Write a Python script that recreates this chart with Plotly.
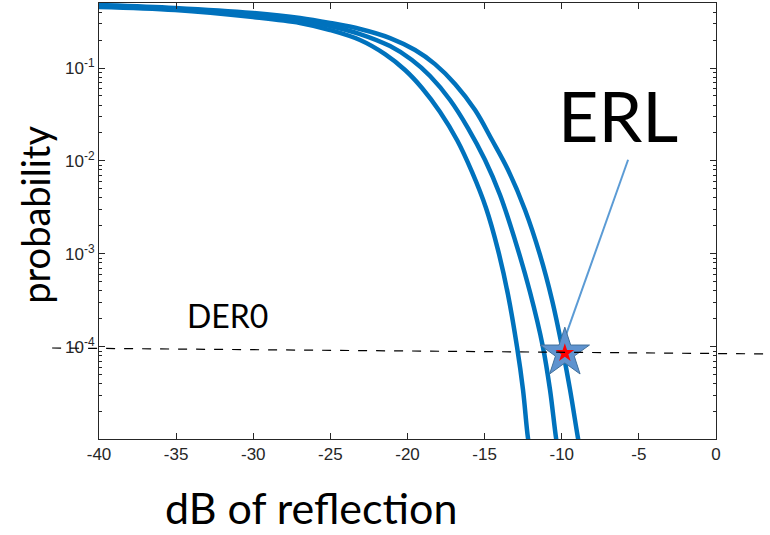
import plotly.graph_objects as go

# dB of reflection vs probability (left, middle, right)
db_left = [-40, -35.07, -30.02, -26.97, -25.02, -23.08, -21.46, -20.16, -19.06, -17.89,
           -16.79, -15.82, -14.91, -14.13, -13.48, -12.90, -12.51, -12.19, -11.99]
p_left = [0.453, 0.420, 0.353, 0.305, 0.256, 0.200, 0.141, 0.0952, 0.0610, 0.0336,
          0.0168, 0.00762, 0.00312, 0.00110, 0.000362, 1.0e-4, 3.45e-5, 1.05e-5, 6.9e-6]

db_mid = [-40, -35.07, -30.02, -26.97, -25.02, -23.08, -21.13, -19.71, -18.54, -17.24,
          -16.08, -14.98, -14.00, -13.03, -12.06, -11.22, -10.76, -10.37, -10.18]
p_mid = [0.464, 0.431, 0.371, 0.328, 0.283, 0.232, 0.172, 0.122, 0.0820, 0.0453,
         0.0226, 0.0103, 0.00431, 0.00141, 0.000390, 1.0e-4, 3.45e-5, 1.05e-5, 6.9e-6]

db_right = [-40, -35.07, -30.02, -26.97, -25.02, -23.08, -21.13, -19.51, -18.22, -16.92,
            -15.62, -14.52, -13.48, -12.38, -11.41, -10.63, -9.98, -9.46, -8.95, -8.75]
p_right = [0.476, 0.442, 0.390, 0.345, 0.305, 0.263, 0.210, 0.156, 0.110, 0.0673,
           0.0353, 0.0168, 0.0080, 0.00297, 0.000976, 0.000320, 1.0e-4, 3.45e-5, 1.05e-5, 6.9e-6]

erl_db = [-9.8]
erl_p = [8.6e-5]
pointer_db = [-10.0, -5.7]
pointer_p = [1.0e-4, 0.0103]

x_ticks = [-40, -35, -30, -25, -20, -15, -10, -5, 0]
x_labels = ["-40", "-35", "-30", "-25", "-20", "-15", "-10", "-5", "0"]
y_ticks = [1e-1, 1e-2, 1e-3, 1e-4]
y_labels = ["10<sup>-1</sup>", "10<sup>-2</sup>", "10<sup>-3</sup>", "10<sup>-4</sup>"]
y_minor = [m * 10.0 ** e for e in range(-5, 0) for m in range(2, 10) if m * 10.0 ** e < 0.5]

blue = "#0072BD"
fig = go.Figure()
for xs, ys in [(db_left, p_left), (db_mid, p_mid), (db_right, p_right)]:
    fig.add_trace(go.Scatter(x=xs, y=ys, mode="lines", line=dict(color=blue, width=4.5, shape="spline"),
                             showlegend=False))

fig.add_trace(go.Scatter(x=pointer_db, y=pointer_p, mode="lines",
                         line=dict(color="#5B9BD5", width=2), showlegend=False))
fig.add_trace(go.Scatter(x=erl_db, y=erl_p, mode="markers", showlegend=False, cliponaxis=False,
                         marker=dict(symbol="star", size=37, color="#5F93CF",
                                     line=dict(color="#41719C", width=1))))
fig.add_trace(go.Scatter(x=erl_db, y=erl_p, mode="markers", showlegend=False, cliponaxis=False,
                         marker=dict(symbol="star", size=14, color="#FF0000")))

# DER0 dashed line (drawn across the whole width)
fig.add_shape(type="line", xref="paper", yref="paper", x0=-0.076, y0=0.2087, x1=1.0875, y1=0.195,
              line=dict(color="black", width=1.2, dash="dash"))

tick_font = dict(family="Liberation Sans, Arial", size=17, color="#262626")
fig.update_xaxes(range=[-40, 0], tickvals=x_ticks, ticktext=x_labels, ticks="inside", ticklen=6,
                 tickcolor="#262626", showline=True, linecolor="#262626", linewidth=1, mirror="ticks",
                 showgrid=False, zeroline=False, tickfont=tick_font, automargin=False)
fig.update_yaxes(type="log", range=[-4.99, -0.301], tickvals=y_ticks, ticktext=y_labels,
                 ticks="inside", ticklen=6, tickcolor="#262626",
                 minor=dict(tickvals=y_minor, ticks="inside", ticklen=3, tickcolor="#262626", showgrid=False),
                 showline=True, linecolor="#262626", linewidth=1, mirror="ticks",
                 showgrid=False, zeroline=False, tickfont=tick_font, automargin=False)

label_font = "Lato, Open Sans, sans-serif"
for text, x, y, size, angle in [("dB of reflection", 0.344, -0.158, 43, 0),
                                ("probability", -0.104, 0.514, 38, -90),
                                ("ERL", 0.841, 0.743, 70, 0),
                                ("DER0", 0.209, 0.284, 32, 0)]:
    fig.add_annotation(text=text, xref="paper", yref="paper", x=x, y=y, textangle=angle,
                       xanchor="center", yanchor="middle", showarrow=False,
                       font=dict(family=label_font, size=size, color="black"))

fig.update_layout(width=770, height=535, margin=dict(l=99, r=54, t=3, b=96, autoexpand=False),
                  plot_bgcolor="white", paper_bgcolor="white", showlegend=False)

# page body has a default 8px margin; drop it so the figure sits at the window corner
fig.write_html("out.html", config={"displayModeBar": False},
               post_script="document.body.style.margin='0';")
